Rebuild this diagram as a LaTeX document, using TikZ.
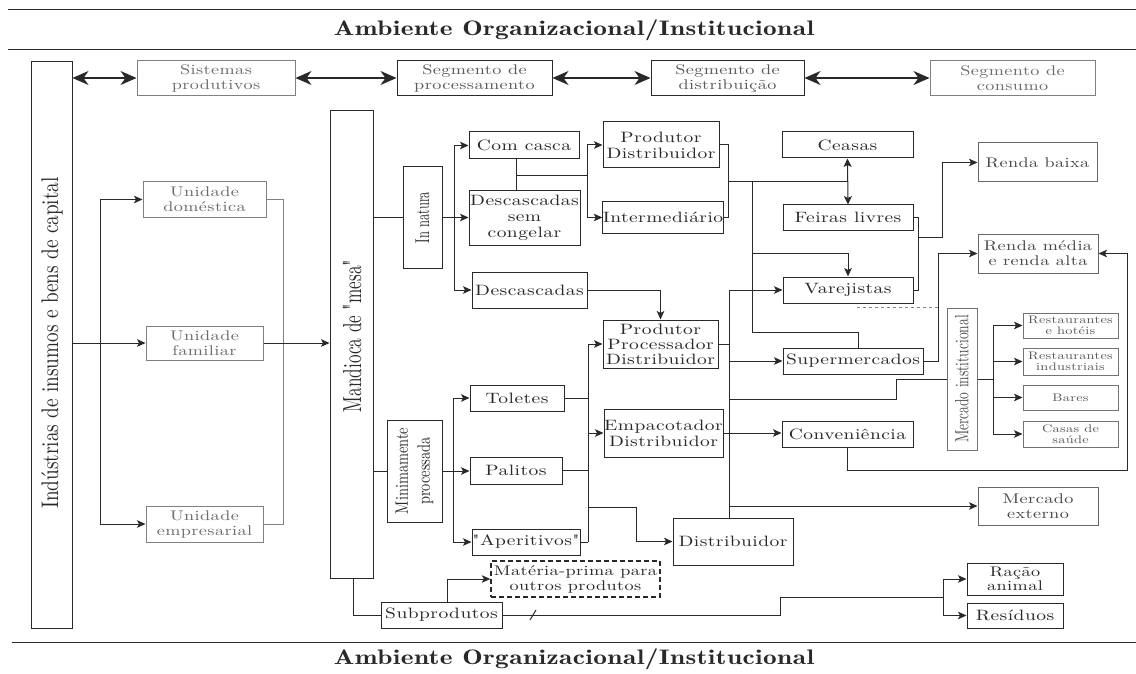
\documentclass[tikz,border=0pt]{standalone}
\usepackage{fontspec}
\setmainfont{lmroman10-regular.otf}[FakeStretch=1.3,LetterSpace=3,Ligatures=TeXOff]
\newfontfamily\titlef{lmromandemi10-regular.otf}[FakeStretch=1.3,LetterSpace=2,Ligatures=TeXOff]
\newfontfamily\indf{lmroman10-regular.otf}[FakeStretch=0.8,Ligatures=TeXOff]
\newfontfamily\manf{lmroman10-regular.otf}[FakeStretch=0.66,Ligatures=TeXOff]
\newfontfamily\natf{lmroman10-regular.otf}[FakeStretch=0.62,Ligatures=TeXOff]
\newfontfamily\minf{lmroman10-regular.otf}[FakeStretch=0.8,Ligatures=TeXOff]
\newfontfamily\mercf{lmroman10-regular.otf}[FakeStretch=0.71,Ligatures=TeXOff]
\usetikzlibrary{arrows.meta}
\definecolor{ink}{gray}{0.16}
\definecolor{lite}{gray}{0.5}
\definecolor{litetxt}{gray}{0.42}
\tikzset{
  sz/.style 2 args={minimum width=#1pt,minimum height=#2pt},
  nb/.style={inner sep=0pt,align=center,line width=1pt},
  dbox/.style={nb,draw=ink,text=ink,font=\fontsize{15}{16}\selectfont},
  segbox/.style={nb,draw=ink,text=black!65,font=\fontsize{14}{15}\selectfont},
  mbox/.style={nb,draw=black!60,text=black!72,font=\fontsize{14}{15}\selectfont},
  lbox/.style={nb,draw=lite,text=litetxt,font=\fontsize{14}{15}\selectfont},
  sbox/.style={nb,draw=black!55,text=black!65,font=\fontsize{11}{11}\selectfont},
  rtxt/.style={rotate=90,inner sep=0pt,align=center,text=ink},
  ln/.style={draw=ink,line width=1pt},
  gln/.style={draw=lite,line width=1pt},
  arr/.style={ln,-{Stealth[length=8.5pt,width=7.5pt,inset=2pt]}},
  darr/.style={ln,{Stealth[length=8.5pt,width=8pt,inset=2pt]}-{Stealth[length=8.5pt,width=8pt,inset=2pt]}},
  bigarr/.style={ln,line width=1.2pt,{Stealth[length=16pt,width=14pt,inset=5pt]}-{Stealth[length=16pt,width=14pt,inset=5pt]}},
  ttl/.style={font=\titlef\fontsize{21}{23}\selectfont,text=ink,inner sep=0pt},
}
\begin{document}
\begin{tikzpicture}[x=1pt,y=-1pt]
\useasboundingbox (0,0) rectangle (1136,674);
\fill[white] (0,0) rectangle (1136,674);

% title bands
\draw[ln] (8,10) -- (1136,10);
\node[ttl] (t1) at (574,30) {Ambiente Organizacional/Institucional};
\draw[ln] (8,50) -- (1136,50);
\draw[ln] (12,642) -- (1136,642);
\node[ttl] (t2) at (574,659) {Ambiente Organizacional/Institucional};

% left column
\node[dbox,sz={41}{566}] (ind) at (51.5,345) {};
\node[rtxt,font=\indf\fontsize{24}{26}\selectfont] (indt) at (52,343) {Indústrias de insumos e bens de capital};

% segment row
\node[lbox,sz={158}{35}] (sis) at (216,78) {Sistemas\\produtivos};
\node[segbox,sz={155}{35}] (proc) at (474.5,78) {Segmento de\\processamento};
\node[segbox,sz={153}{35}] (dist) at (727.5,78) {Segmento de\\distribuição};
\node[lbox,sz={165}{35}] (cons) at (1012.5,78) {Segmento de\\consumo};

% production units
\node[lbox,sz={123}{35}] (dom) at (204.5,199.5) {Unidade\\doméstica};
\node[lbox,sz={117}{34}] (fam) at (204.5,343) {Unidade\\familiar};
\node[lbox,sz={117}{36}] (emp) at (204.5,524) {Unidade\\empresarial};

% mandioca
\node[dbox,sz={43}{467}] (man) at (351.5,344.5) {};
\node[rtxt,font=\manf\fontsize{26}{28}\selectfont] (mant) at (352,336) {Mandioca de "mesa"};

% in natura branch
\node[dbox,sz={39}{101}] (nat) at (422.5,217.5) {};
\node[rtxt,font=\natf\fontsize{20}{22}\selectfont] (natt) at (nat.center) {In natura};
\node[dbox,sz={110}{27}] (cc) at (524,145.5) {Com casca};
\node[dbox,sz={111}{54}] (dsc) at (524.5,218) {Descascadas\\sem\\congelar};
\node[dbox,sz={115}{36}] (desc) at (529.5,290) {Descascadas};
\node[dbox,sz={116}{46}] (pd) at (661,145) {Produtor\\Distribuidor};
\node[dbox,sz={120}{31}] (int) at (663,217.5) {Intermediário};
\node[dbox,sz={115}{48},font=\fontsize{15}{15}\selectfont] (ppd) at (660.5,344) {Produtor\\Processador\\Distribuidor};

% minimamente processada branch
\node[dbox,sz={55}{102}] (minb) at (414.5,471) {};
\node[rtxt,font=\minf\fontsize{18}{22}\selectfont] (mint) at (minb.center) {Minimamente\\processada};
\node[dbox,sz={94}{26}] (tol) at (517,398) {Toletes};
\node[dbox,sz={92}{27}] (pal) at (516,470.5) {Palitos};
\node[dbox,sz={108}{26}] (ape) at (526,542) {"Aperitivos"};
\node[dbox,sz={119}{48}] (emb) at (663.5,433) {Empacotador\\Distribuidor};
\node[dbox,sz={120}{47}] (dis) at (733,541.5) {Distribuidor};
\node[dbox,sz={169}{36},font=\fontsize{14}{15}\selectfont,line width=1.3pt,dash pattern=on 5pt off 3pt] (mp) at (575.5,579) {Matéria-prima para\\outros produtos};
\node[dbox,sz={121}{26}] (sub) at (441.5,615) {Subprodutos};

% distribution
\node[dbox,sz={131}{26}] (cea) at (847.5,145) {Ceasas};
\node[dbox,sz={130}{25}] (fei) at (848,217.5) {Feiras livres};
\node[dbox,sz={130}{26}] (var) at (848,290) {Varejistas};
\node[dbox,sz={140}{26}] (sup) at (853,361) {Supermercados};
\node[dbox,sz={131}{26}] (conv) at (847.5,434) {Conveniência};

% consumption
\node[mbox,sz={119}{39}] (rb) at (1037.5,162.5) {Renda baixa};
\node[mbox,sz={120}{39}] (rm) at (1038,253.5) {Renda média\\e renda alta};
\node[sbox,sz={30}{142}] (mi) at (962,379) {};
\node[rtxt,font=\mercf\fontsize{19}{20}\selectfont,text=black!70] (mit) at (mi.center) {Mercado institucional};
\node[sbox,sz={95}{25}] (rh) at (1070.5,325.5) {Restaurantes\\e hotéis};
\node[sbox,sz={95}{27}] (ri) at (1070.5,361.5) {Restaurantes\\industriais};
\node[sbox,sz={95}{25}] (bar) at (1070.5,397.5) {Bares};
\node[sbox,sz={95}{26}] (cs) at (1070.5,434) {Casas de\\saúde};
\node[mbox,sz={120}{38}] (me) at (1038,506) {Mercado\\externo};
\node[dbox,sz={96}{32},font=\fontsize{14}{14}\selectfont] (ra) at (1015,579) {Ração\\animal};
\node[dbox,sz={96}{25}] (res) at (1015,615.5) {Resíduos};

% ---------- connectors ----------
% segment row
\draw[bigarr] (ind.east |- sis.west) -- (sis.west);
\draw[bigarr] (sis.east) -- (proc.west);
\draw[bigarr] (proc.east) -- (dist.west);
\draw[bigarr] (dist.east) -- (cons.west);

% production units
\coordinate (jl) at (100,0);
\coordinate (jr) at (283,0);
\draw[arr] (ind.east |- fam.west) -- (fam.west);
\draw[arr] (jl |- dom.west) -- (dom.west);
\draw[arr] (jl |- dom.west) -- (jl |- emp.west) -- (emp.west);
\draw[gln] (dom.east) -- (jr |- dom.east) -- (jr |- emp.east) -- (emp.east);
\draw[arr] (fam.east) -- (man.west |- fam.east);

% in natura
\draw[ln] (man.east |- nat.west) -- (nat.west);
\coordinate (jn) at (454,0);
\draw[arr] (nat.east) -- (nat.east -| dsc.west);
\draw[arr] (jn |- cc.west) -- (cc.west);
\draw[arr] (jn |- cc.west) -- (jn |- desc.west) -- (desc.west);
\coordinate (jc) at (516,176);
\coordinate (jp) at (587,0);
\draw[ln] (jc |- cc.south) -- (jc |- dsc.north);
\draw[ln] (jc) -- (jp |- jc);
\draw[arr] (jp |- pd.west) -- (pd.west);
\draw[arr] (jp |- pd.west) -- (jp |- int.west) -- (int.west);
\draw[arr] (desc.east) -- (desc.east -| ppd.north) -- (ppd.north);

% to distribution
\coordinate (jq) at (728,182);
\draw[ln] (pd.east) -- (jq |- pd.east) -- (jq |- int.east) -- (int.east);
\draw[ln] (jq) -- (jq -| cea.south);
\draw[darr] (cea.south) -- (fei.north);
\coordinate (jv) at (752,182);
\coordinate (js) at (858,332);
\draw[ln] (jv) -- (jv |- js) -- (js) -- (js |- sup.north);
\coordinate (jw) at (752,253);
\draw[arr] (jw) -- (jw -| var.north) -- (var.north);

\coordinate (jd) at (729,0);
\draw[arr] (jd |- dis.north) -- (jd |- var.west) -- (var.west);
\draw[ln] (ppd.east) -- (jd |- ppd.east);
\draw[arr] (jd |- sup.west) -- (sup.west);
\coordinate (jmi) at (896,399);
\draw[ln] (jd |- jmi) -- (jmi) -- (jmi |- mi.west) -- (mi.west);
\draw[arr] (emb.east) -- (emb.east -| conv.west);
\draw[arr] (jd |- me.west) -- (me.west);

% to consumption
\coordinate (jf) at (918,237);
\coordinate (jg) at (942,237);
\draw[ln] (fei.east) -- (jf |- fei.east) -- (jf |- var.east) -- (var.east);
\draw[arr] (jf) -- (jg) -- (jg |- rb.west) -- (rb.west);
\coordinate (jh) at (938,0);
\draw[arr] (sup.east) -- (jh |- sup.east) -- (jh |- rm.west) -- (rm.west);
\coordinate (jvd) at (857,307);
\draw[gln,dashed] (jvd) -- (jh |- jvd);
\coordinate (jk) at (1127,470);
\draw[arr] (conv.south) -- (conv.south |- jk) -- (jk) -- (jk |- rm.east) -- (rm.east);

\coordinate (jm) at (993,0);
\draw[ln] (mi.east) -- (jm |- mi.east);
\draw[arr] (jm |- rh.west) -- (rh.west);
\draw[arr] (jm |- ri.west) -- (ri.west);
\draw[arr] (jm |- bar.west) -- (bar.west);
\draw[arr] (jm |- rh.west) -- (jm |- cs.west) -- (cs.west);

% minimamente processada
\draw[ln] (man.east |- minb.west) -- (minb.west);
\coordinate (jmn) at (453,0);
\draw[arr] (minb.east) -- (minb.east -| pal.west);
\draw[arr] (jmn |- tol.west) -- (tol.west);
\draw[arr] (jmn |- tol.west) -- (jmn |- ape.west) -- (ape.west);
\coordinate (jt) at (588,0);
\draw[ln] (tol.east) -- (jt |- tol.east);
\draw[ln] (pal.east) -- (jt |- pal.east);
\draw[ln] (ape.east) -- (jt |- ape.east);
\draw[arr] (jt |- ape.east) -- (jt |- ppd.west) -- (ppd.west);
\draw[arr] (jt |- emb.west) -- (emb.west);
\coordinate (ju) at (636,507);
\draw[arr] (jt |- ju) -- (ju) -- (ju |- dis.west) -- (dis.west);

% subprodutos
\coordinate (jms) at (353,0);
\draw[ln] (jms |- man.south) -- (jms |- sub.west) -- (sub.west);
\coordinate (jsm) at (447,579);
\draw[arr] (jsm |- sub.north) -- (jsm) -- (mp.west);
\coordinate (jr1) at (780,597);
\coordinate (jr2) at (943,597);
\draw[ln] (sub.east) -- (jr1 |- sub.east) -- (jr1) -- (jr2);
\draw[ln] (530,620) -- (536,610);
\draw[arr] (jr2 |- ra.west) -- (ra.west);
\draw[arr] (jr2 |- ra.west) -- (jr2 |- res.west) -- (res.west);
\end{tikzpicture}
\end{document}
